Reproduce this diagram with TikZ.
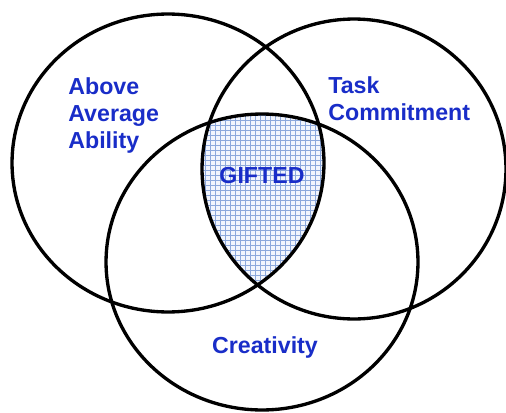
\documentclass[tikz,border=0pt]{standalone}
\usepackage{fontspec}
\setmainfont{Liberation Sans}
\definecolor{labelblue}{RGB}{25,45,200}
\definecolor{hatchblue}{RGB}{140,168,220}
\definecolor{hatchback}{RGB}{242,245,253}
\tikzset{
  ring/.style={draw=black, line width=1.9pt},
  word/.style={text=labelblue, inner sep=0pt, font=\bfseries\fontsize{13.2}{15.6}\selectfont}
}
\begin{document}
\begin{tikzpicture}[x=0.02cm,y=-0.02cm]
            \useasboundingbox (0,0) rectangle (506,412);

            % shaded overlap of all three sets
            \begin{scope}
                \clip (168,163) ellipse [x radius=3.12cm, y radius=2.98cm];
                \clip (354,169) ellipse [x radius=3.04cm, y radius=3.0cm];
                \clip (262,262) ellipse [x radius=3.12cm, y radius=2.96cm];
                \fill[hatchback] (150,100) rectangle (360,300);
                \draw[hatchblue, line width=0.45pt, step=0.1cm] (150,100) grid (360,300);
            \end{scope}

            \draw[ring] (168,163) ellipse [x radius=3.12cm, y radius=2.98cm];
            \draw[ring] (354,169) ellipse [x radius=3.04cm, y radius=3.0cm];
            \draw[ring] (262,262) ellipse [x radius=3.12cm, y radius=2.96cm];

            \node[word, anchor=north west, align=left] (ability) at (68,77) {Above\\Average\\Ability};
            \node[word, anchor=north west, align=left] (task) at (328,76) {Task\\Commitment};
            \node[word] (gifted) at (262,176) {GIFTED};
            \node[word, anchor=base] (creativity) at (265,353) {Creativity};
        \end{tikzpicture}
\end{document}
